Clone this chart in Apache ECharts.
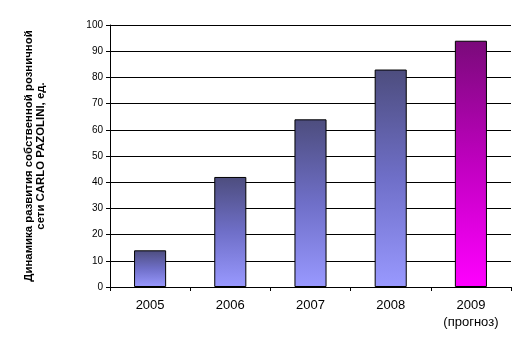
<!DOCTYPE html>
<html>
<head>
<meta charset="utf-8">
<script src="https://cdn.jsdelivr.net/npm/echarts@6/dist/echarts.min.js"></script>
<style>
  html, body { margin: 0; padding: 0; background: #fff; }
  #chart { width: 527px; height: 351px; }
</style>
</head>
<body>
<div id="chart"></div>
<script>
// данные
const years = ['2005', '2006', '2007', '2008', '2009\n(прогноз)'];
const shops = [14, 42, 64, 83, 94];
const yTicks = [0, 10, 20, 30, 40, 50, 60, 70, 80, 90, 100];
const yTitle = ['Динамика развития собственной розничной', 'сети CARLO PAZOLINI, ед.'];

const font = 'Liberation Sans, Arial, sans-serif';

function barColor(i) {
  // последний столбец - прогноз, другой цвет
  if (i === years.length - 1) {
    return new echarts.graphic.LinearGradient(0, 0, 0, 1, [
      { offset: 0, color: '#7a0a7a' },
      { offset: 0.5, color: '#c000c0' },
      { offset: 1, color: '#ff00ff' }
    ]);
  }
  return new echarts.graphic.LinearGradient(0, 0, 0, 1, [
    { offset: 0, color: '#4d4d7e' },
    { offset: 0.5, color: '#6f6fc8' },
    { offset: 1, color: '#9999ff' }
  ]);
}

const chart = echarts.init(document.getElementById('chart'));
chart.setOption({
  animation: false,
  backgroundColor: '#fff',
  grid: { left: 110, right: 16, top: 25, bottom: 64 },
  xAxis: {
    type: 'category',
    data: years,
    axisLine: { lineStyle: { color: '#000', width: 1 } },
    axisTick: { show: true, length: 4, lineStyle: { color: '#000' } },
    axisLabel: { color: '#000', fontFamily: font, fontSize: 13, margin: 10, lineHeight: 17 }
  },
  yAxis: {
    type: 'value',
    min: yTicks[0],
    max: yTicks[yTicks.length - 1],
    interval: 10,
    axisLine: { show: true, lineStyle: { color: '#000', width: 1 } },
    axisTick: { show: true, length: 4, lineStyle: { color: '#000' } },
    axisLabel: { color: '#000', fontFamily: font, fontSize: 10, margin: 7 },
    splitLine: { show: true, lineStyle: { color: '#000', width: 1 } }
  },
  series: [{
    type: 'bar',
    barWidth: '40%',
    data: shops.map((v, i) => ({
      value: v,
      itemStyle: { color: barColor(i), borderColor: '#000', borderWidth: 1 }
    }))
  }],
  graphic: [{
    type: 'text',
    x: 35,
    y: 156,
    rotation: Math.PI / 2,
    style: {
      text: yTitle.join('\n'),
      fontFamily: font,
      fontSize: 11.4,
      fontWeight: 'bold',
      lineHeight: 12,
      fill: '#000',
      align: 'center',
      verticalAlign: 'middle'
    }
  }]
});
</script>
</body>
</html>
